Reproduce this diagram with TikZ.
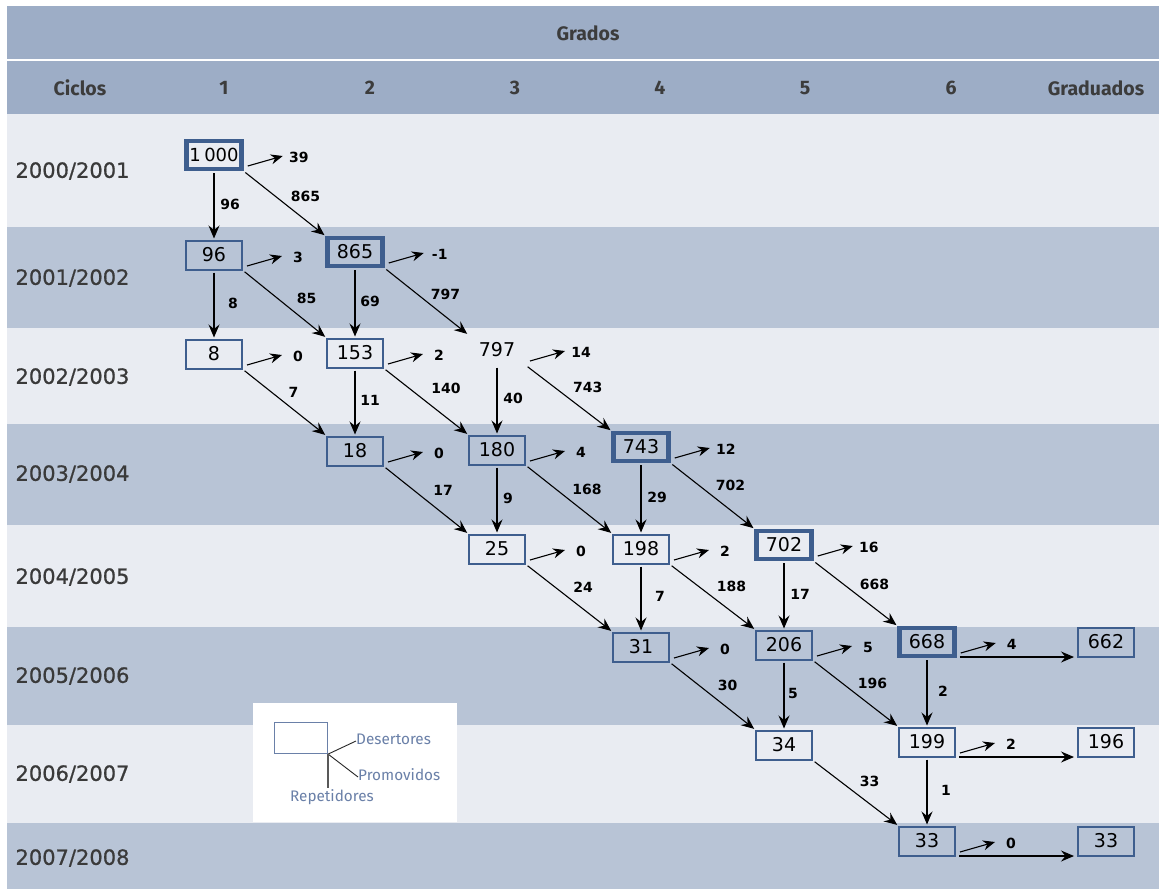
\documentclass[tikz,border=0pt]{standalone}
\usepackage{fontspec}
\setmainfont{Fira Sans}
\newfontfamily\numfont{DejaVu Sans}
\newfontfamily\yearfont[FakeBold=0.8]{DejaVu Sans}
\usetikzlibrary{arrows.meta,calc}
\definecolor{hdr}{HTML}{9DADC6}
\definecolor{rowlight}{HTML}{E9ECF2}
\definecolor{rowdark}{HTML}{B8C4D6}
\definecolor{boxblue}{HTML}{3E5E8E}
\definecolor{hdrtext}{HTML}{3C3C3C}
\definecolor{yeartext}{HTML}{3A3A3A}
\definecolor{legtext}{HTML}{6A80A8}

\begin{document}
\begin{tikzpicture}[x=1pt,y=-1pt,
  cell/.style={draw=boxblue, line width=2pt, minimum width=56pt, minimum height=29pt,
    inner sep=0pt, font=\numfont\fontsize{19}{19}\selectfont},
  key/.style={cell, line width=4.5pt, minimum width=55pt, minimum height=28pt},
  bare/.style={cell, draw=none},
  flow/.style={-{Stealth[length=13pt,width=11pt,inset=4.5pt]}, line width=1.1pt, black,
    shorten <=2pt, shorten >=1pt},
  num/.style={font=\numfont\bfseries\fontsize{14}{14}\selectfont, inner sep=0pt},
  hdrlab/.style={font=\bfseries\fontsize{19.5}{19.5}\selectfont, text=hdrtext},
  yearlab/.style={font=\yearfont\fontsize{21}{21}\selectfont, text=yeartext, anchor=west},
  legbox/.style={draw=legtext, line width=1.2pt, minimum width=53pt, minimum height=31pt, inner sep=0pt},
  legtxt/.style={font=\fontsize{15.3}{15.3}\selectfont, text=legtext, inner sep=1pt},
]
\useasboundingbox (0,0) rectangle (1159,889);
\fill[white] (0,0) rectangle (1159,889);

% header bands
\fill[hdr] (7,6) rectangle (1159,59);
\fill[hdr] (7,61) rectangle (1159,114);

% row bands
\foreach \t/\b/\c in {114/227/rowlight, 227/328/rowdark, 328/424/rowlight,
  424/525/rowdark, 525/627/rowlight, 627/725/rowdark, 725/823/rowlight, 823/889/rowdark}
  \fill[\c] (7,\t) rectangle (1159,\b);

% header labels
\node[hdrlab] (hGrados) at (588,33) {Grados};
\node[hdrlab] (hCiclos) at (80,88) {Ciclos};
\node[hdrlab] (hG1) at (224,88) {1};
\node[hdrlab] (hG2) at (370,88) {2};
\node[hdrlab] (hG3) at (515,88) {3};
\node[hdrlab] (hG4) at (660,88) {4};
\node[hdrlab] (hG5) at (805,88) {5};
\node[hdrlab] (hG6) at (951,88) {6};
\node[hdrlab] (hGrad) at (1096,88) {Graduados};

% school years
\node[yearlab] (y1) at (12,171) {2000/2001};
\node[yearlab] (y2) at (12,278) {2001/2002};
\node[yearlab] (y3) at (12,377) {2002/2003};
\node[yearlab] (y4) at (12,474) {2003/2004};
\node[yearlab] (y5) at (12,577) {2004/2005};
\node[yearlab] (y6) at (12,676) {2005/2006};
\node[yearlab] (y7) at (12,774) {2006/2007};
\node[yearlab] (y8) at (12,858) {2007/2008};

% legend
\fill[white] (253,703) rectangle (457,822);
\node[legbox] (lgbox) at (301,738) {};
\node[legtxt, anchor=west] (ldes) at (355,739) {Desertores};
\node[legtxt, anchor=west] (lpro) at (357,775) {Promovidos};
\node[legtxt] (lrep) at (332,797) {Repetidores};
\draw[line width=0.9pt, black!85] (lgbox.south east) -- ($(ldes.west)+(1,2)$);
\draw[line width=0.9pt, black!85] (lgbox.south east) -- ($(lpro.west)+(1,2)$);
\draw[line width=1.4pt, black!65] (lgbox.south east) -- (lgbox.south east |- lrep.north);

% cohort boxes
\node[key, font=\numfont\fontsize{18}{18}\selectfont] (n1000) at (214,155) {1\kern3.5pt000};
\node[cell] (n96)   at (214,255) {96};
\node[key]  (n865)  at (355,252) {865};
\node[cell] (n8)    at (214,354) {8};
\node[cell] (n153)  at (355,353) {153};
\node[bare] (n797)  at (497,350) {797};
\node[cell] (n18)   at (355,451) {18};
\node[cell] (n180)  at (497,450) {180};
\node[key]  (n743)  at (641,447) {743};
\node[cell] (n25)   at (497,549) {25};
\node[cell] (n198)  at (641,549) {198};
\node[key]  (n702)  at (784,545) {702};
\node[cell] (n31)   at (641,647) {31};
\node[cell] (n206)  at (784,645) {206};
\node[key]  (n668)  at (927,642) {668};
\node[cell] (n34)   at (784,745) {34};
\node[cell] (n199)  at (927,742) {199};
\node[cell] (n33)   at (927,841) {33};
\node[cell] (g662)  at (1106,642) {662};
\node[cell] (g196)  at (1106,742) {196};
\node[cell] (g33)   at (1106,841) {33};

% repeaters (same grade, next year)
\foreach \a/\b/\v/\dx in {n1000/n96/96/16, n96/n8/8/19, n865/n153/69/15, n153/n18/11/15,
  n797/n180/40/16, n180/n25/9/11, n743/n198/29/16, n198/n31/7/19, n702/n206/17/16,
  n206/n34/5/9, n668/n199/2/16, n199/n33/1/19}
  \draw[flow] (\a.south) -- node[num, pos=.48, xshift=\dx pt] {\v} (\b.north);

% promoted (next grade, next year)
\foreach \a/\b/\v/\dx/\dy in {n1000/n865/865/21/7, n96/n153/85/22/6, n865/n797/797/19/7,
  n8/n18/7/9/10, n153/n180/140/20/13, n797/n743/743/19/11, n18/n25/17/17/10,
  n180/n198/168/18/10, n743/n702/702/18/11, n25/n31/24/14/11, n198/n206/188/19/11,
  n702/n668/668/19/9, n31/n34/30/15/11, n206/n199/196/17/10, n34/n33/33/14/12}
  \draw[flow] (\a.south east) -- node[num, midway, xshift=\dx pt, yshift=\dy pt] {\v} (\b.north west);

% dropouts
\foreach \a/\v in {n1000/39, n96/3, n865/-1, n8/0, n153/2, n797/14, n18/0, n180/4,
  n743/12, n25/0, n198/2, n702/16, n31/0, n206/5, n668/4, n199/2, n33/0} {
  \coordinate (\a-ds) at ($(\a.east)+(4,11)$);
  \coordinate (\a-de) at ($(\a.east)+(39,1)$);
  \draw[flow, shorten <=0pt, shorten >=0pt, -{Stealth[length=12pt,width=10pt,inset=4pt]}] (\a-ds) -- (\a-de);
  \node[num] (\a-dl) at ($(\a-de)+(16,1)$) {\v};
}

% graduates
\foreach \a/\g in {n668/g662, n199/g196, n33/g33} {
  \coordinate (\a-gs) at ($(\a.east)+(3,15)$);
  \coordinate (\a-ge) at ($(\g.west |- \a-gs)+(-3,0)$);
  \draw[flow, shorten <=0pt, shorten >=0pt] (\a-gs) -- (\a-ge);
}
\end{tikzpicture}
\end{document}
